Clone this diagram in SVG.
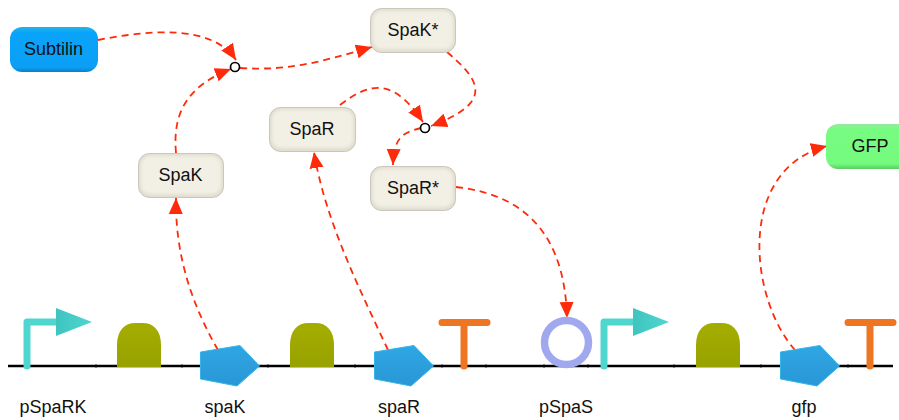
<svg xmlns="http://www.w3.org/2000/svg" width="899" height="420" viewBox="0 0 899 420">
<style>
.lbl{font-family:"Liberation Sans",Arial,sans-serif;font-size:18px;fill:#111;text-anchor:middle}
.edge{fill:none;stroke:#ff2a0a;stroke-width:1.8;stroke-dasharray:7 5}
.prot{fill:#e2decf;stroke:#bdbbb2;stroke-width:.8}
.bevel{fill:#f2efe5;filter:url(#soft2)}
.rbs{fill:url(#olive);filter:url(#soft)}
.cds{fill:url(#blue);stroke:#35b4e8;stroke-width:1;stroke-linejoin:round;filter:url(#soft)}
.term{fill:none;stroke:#ee7424;stroke-width:7;stroke-linecap:round;filter:url(#soft)}
.prom{fill:none;stroke:#4fd6cf;stroke-width:7;stroke-linejoin:round;stroke-linecap:round;filter:url(#soft)}
.head{fill:url(#teal);filter:url(#soft)}
.junction{fill:#fff;stroke:#000;stroke-width:1.7}
</style>
<defs>
<filter id="soft" x="-20%" y="-20%" width="140%" height="140%"><feGaussianBlur stdDeviation=".5"/></filter>
<filter id="soft2" x="-20%" y="-20%" width="140%" height="140%"><feGaussianBlur stdDeviation="1.5"/></filter>
<marker id="arr" markerUnits="userSpaceOnUse" markerWidth="18" markerHeight="16" refX="16" refY="8" orient="auto"><path d="M0,1L16,8L0,15z" fill="#ff2a0a"/></marker>
<linearGradient id="azure" x1="0" y1="0" x2="0" y2="1"><stop offset="0" stop-color="#27b4e4"/><stop offset=".12" stop-color="#0aa4fb"/><stop offset=".9" stop-color="#0a9ff5"/><stop offset="1" stop-color="#0a7fc4"/></linearGradient>
<linearGradient id="green" x1="0" y1="0" x2="0" y2="1"><stop offset="0" stop-color="#9ae8a0"/><stop offset=".1" stop-color="#78fb82"/><stop offset=".88" stop-color="#74fb7e"/><stop offset="1" stop-color="#5ccc66"/></linearGradient>
<linearGradient id="olive" x1="0" y1="0" x2="0" y2="1"><stop offset="0" stop-color="#a3ad00"/><stop offset="1" stop-color="#98a200"/></linearGradient>
<linearGradient id="blue" x1="0" y1="0" x2="0" y2="1"><stop offset="0" stop-color="#2ea6e4"/><stop offset="1" stop-color="#2b97d6"/></linearGradient>
<linearGradient id="teal" x1="0" y1="0" x2="1" y2="0"><stop offset="0" stop-color="#3fc4c0"/><stop offset="1" stop-color="#4fd6cf"/></linearGradient>
</defs>

<g id="backbone">
<path d="M8,366H893" stroke="#000" stroke-width="2.6" fill="none"/>
<path d="M96,364v4M182,364v4M268,364v4M355,364v4M442,364v4M486,364v4M544,364v4M588,364v4M674,364v4M761,364v4M848,364v4" stroke="#000" stroke-width=".7" fill="none"/>
</g>

<g id="connectors">
<path class="edge" marker-end="url(#arr)" d="M98,40C150,30 212,24 236,60"/>
<path class="edge" marker-end="url(#arr)" d="M240,68C290,71 320,62 372,47"/>
<path class="edge" marker-end="url(#arr)" d="M176,153C172,110 190,85 231,69"/>
<path class="edge" marker-end="url(#arr)" d="M447,52C480,80 495,102 431,126"/>
<path class="edge" marker-end="url(#arr)" d="M340,105C372,80 395,80 423,122"/>
<path class="edge" marker-end="url(#arr)" d="M421,128C400,133 394,140 393,165"/>
<path class="edge" marker-end="url(#arr)" d="M218,350C195,310 175,260 176,198"/>
<path class="edge" marker-end="url(#arr)" d="M388,350C360,290 325,220 314,152"/>
<path class="edge" marker-end="url(#arr)" d="M456,187C530,195 565,240 567,318"/>
<path class="edge" marker-end="url(#arr)" d="M795,350C750,300 735,170 827,146"/>
</g>

<g id="junction1"><circle class="junction" cx="235" cy="67" r="4.5"/></g>
<g id="junction2"><circle class="junction" cx="425" cy="128" r="4.5"/></g>

<g id="subtilin"><rect x="10" y="27" width="88" height="45" rx="12" fill="url(#azure)"/><text class="lbl" x="53.500" y="55">Subtilin</text></g>
<g id="spakstar"><rect class="prot" x="370.500" y="8.500" width="85" height="44" rx="11"/><rect class="bevel" x="373" y="11" width="80" height="38" rx="9"/><text class="lbl" x="413" y="36">SpaK*</text></g>
<g id="spar"><rect class="prot" x="269.500" y="107.500" width="86" height="44" rx="11"/><rect class="bevel" x="272" y="110" width="81" height="38" rx="9"/><text class="lbl" x="312" y="135">SpaR</text></g>
<g id="spak"><rect class="prot" x="138.500" y="153.500" width="85" height="44" rx="11"/><rect class="bevel" x="141" y="156" width="80" height="38" rx="9"/><text class="lbl" x="180.500" y="181">SpaK</text></g>
<g id="sparstar"><rect class="prot" x="370.500" y="166.500" width="85" height="44" rx="11"/><rect class="bevel" x="373" y="169" width="80" height="38" rx="9"/><text class="lbl" x="413" y="194">SpaR*</text></g>
<g id="gfp-protein"><rect x="826" y="124" width="85" height="45" rx="12" fill="url(#green)"/><text class="lbl" x="870" y="152">GFP</text></g>

<g id="pSpaRK"><path class="prom" d="M27,366V322H60"/><path class="head" d="M56,308L92,322L56,336z"/><text class="lbl" x="53" y="413">pSpaRK</text></g>
<g id="rbs1"><path class="rbs" d="M117,367V345C117,330 125,323 135,323H143C153,323 161,330 161,345V367z"/></g>
<g id="spaK"><path class="cds" d="M200.500,352L240,345.500L259.500,366L237,386L200.500,379z"/><text class="lbl" x="225" y="413">spaK</text></g>
<g id="rbs2"><path class="rbs" d="M290,367V345C290,330 298,323 308,323H316C326,323 334,330 334,345V367z"/></g>
<g id="spaR"><path class="cds" d="M374.500,352L414,345.500L433.500,366L411,386L374.500,379z"/><text class="lbl" x="399" y="413">spaR</text></g>
<g id="term1"><path class="term" d="M442,322.500H487M464,322.500V366"/></g>
<g id="pSpaS"><circle cx="566.500" cy="342.500" r="22" fill="none" stroke="#a0a8ee" stroke-width="7.500" filter="url(#soft)"/><text class="lbl" x="566" y="413">pSpaS</text></g>
<g id="prom2"><path class="prom" d="M604,366V322H637"/><path class="head" d="M633,308L669,322L633,336z"/></g>
<g id="rbs3"><path class="rbs" d="M696,367V345C696,330 704,323 714,323H722C732,323 740,330 740,345V367z"/></g>
<g id="gfp"><path class="cds" d="M780.500,352L820,345.500L839.500,366L817,386L780.500,379z"/><text class="lbl" x="804" y="413">gfp</text></g>
<g id="term2"><path class="term" d="M848,322.500H893M870,322.500V366"/></g>
</svg>
